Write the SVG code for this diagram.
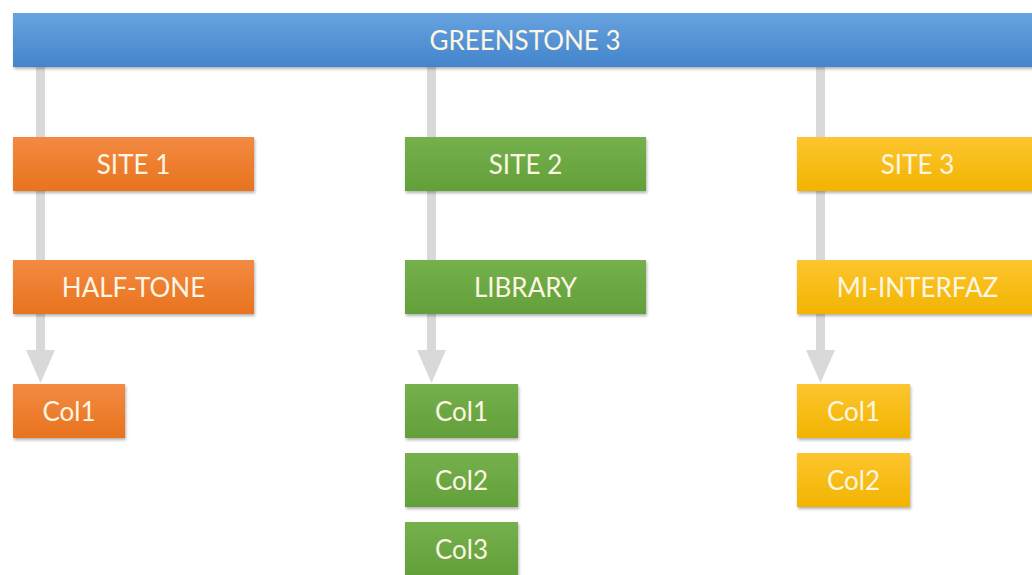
<svg xmlns="http://www.w3.org/2000/svg" width="1032" height="575" viewBox="0 0 1032 575">
<defs>
<linearGradient id="gBlue" x1="0" y1="0" x2="0" y2="1"><stop offset="0" stop-color="#67a3df"/><stop offset="1" stop-color="#4484cc"/></linearGradient>
<linearGradient id="gOrange" x1="0" y1="0" x2="0" y2="1"><stop offset="0" stop-color="#f38a42"/><stop offset="1" stop-color="#e8731e"/></linearGradient>
<linearGradient id="gGreen" x1="0" y1="0" x2="0" y2="1"><stop offset="0" stop-color="#75b04c"/><stop offset="1" stop-color="#62a03a"/></linearGradient>
<linearGradient id="gYellow" x1="0" y1="0" x2="0" y2="1"><stop offset="0" stop-color="#fdc52f"/><stop offset="1" stop-color="#f2b400"/></linearGradient>
<filter id="sh" x="-5%" y="-10%" width="115%" height="140%"><feDropShadow dx="1" dy="2" stdDeviation="1.5" flood-color="#000" flood-opacity="0.3"/></filter>
</defs>
<style>
text{font-family:"Lato","Open Sans","Liberation Sans",sans-serif;font-size:26px;fill:#fdf6e3;text-anchor:middle;dominant-baseline:central}
.b{filter:url(#sh)}
.o{fill:url(#gOrange)}.g{fill:url(#gGreen)}.y{fill:url(#gYellow)}
.c{fill:#d9d9d9}
</style>
<g id="connectors">
<rect class="c" x="36" y="67" width="9" height="285"/>
<polygon class="c" points="26,350 55,350 40.5,383"/>
<rect class="c" x="427" y="67" width="9" height="285"/>
<polygon class="c" points="417,350 446,350 431.5,383"/>
<rect class="c" x="816" y="67" width="9" height="285"/>
<polygon class="c" points="806,350 835,350 820.5,383"/>
</g>
<g id="greenstone"><rect class="b" x="13" y="13" width="1030" height="54" fill="url(#gBlue)"/><text x="525" y="40">GREENSTONE 3</text></g>
<g id="site1"><rect class="b o" x="13" y="137" width="241" height="54"/><text x="133.5" y="164">SITE 1</text></g>
<g id="halftone"><rect class="b o" x="13" y="260" width="241" height="54"/><text x="133.5" y="287">HALF-TONE</text></g>
<g id="s1col1"><rect class="b o" x="13" y="384" width="112" height="54"/><text x="69" y="411">Col1</text></g>
<g id="site2"><rect class="b g" x="405" y="137" width="241" height="54"/><text x="525.5" y="164">SITE 2</text></g>
<g id="library"><rect class="b g" x="405" y="260" width="241" height="54"/><text x="525.5" y="287">LIBRARY</text></g>
<g id="s2col1"><rect class="b g" x="405" y="384" width="113" height="54"/><text x="461.5" y="411">Col1</text></g>
<g id="s2col2"><rect class="b g" x="405" y="453" width="113" height="54"/><text x="461.5" y="480">Col2</text></g>
<g id="s2col3"><rect class="b g" x="405" y="522" width="113" height="54"/><text x="461.5" y="549">Col3</text></g>
<g id="site3"><rect class="b y" x="797" y="137" width="241" height="54"/><text x="917.5" y="164">SITE 3</text></g>
<g id="miinterfaz"><rect class="b y" x="797" y="260" width="241" height="54"/><text x="917.5" y="287">MI-INTERFAZ</text></g>
<g id="s3col1"><rect class="b y" x="797" y="384" width="113" height="54"/><text x="853.5" y="411">Col1</text></g>
<g id="s3col2"><rect class="b y" x="797" y="453" width="113" height="54"/><text x="853.5" y="480">Col2</text></g>
</svg>
